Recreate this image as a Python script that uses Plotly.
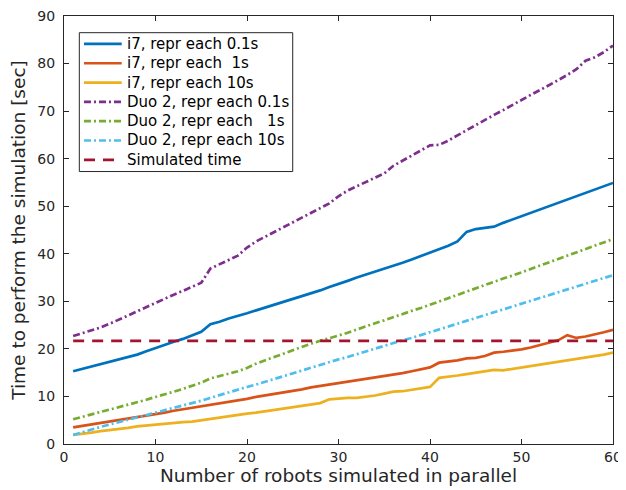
import plotly.graph_objects as go

robots = list(range(1, 61))

i7_01 = [15.3, 15.8, 16.2, 16.7, 17.2, 17.8, 18.3, 18.8, 19.5, 20.2,
         20.9, 21.5, 22.1, 22.8, 23.6, 25.2, 25.7, 26.4, 26.9, 27.5,
         28.1, 28.7, 29.3, 29.9, 30.5, 31.0, 31.6, 32.3, 33.0, 33.6,
         34.3, 35.0, 35.6, 36.2, 36.8, 37.4, 38.1, 38.8, 39.5, 40.3,
         40.9, 41.7, 42.6, 44.6, 45.2, 45.5, 45.7, 46.5, 47.2, 47.9,
         48.6, 49.3, 50.0, 50.7, 51.4, 52.1, 52.8, 53.5, 54.2, 54.9]
i7_1 = [3.5, 3.8, 4.1, 4.4, 4.7, 5.0, 5.3, 5.6, 5.9, 6.3,
        6.6, 7.0, 7.3, 7.6, 7.9, 8.3, 8.6, 8.9, 9.2, 9.5,
        9.9, 10.2, 10.5, 10.8, 11.1, 11.5, 11.9, 12.2, 12.4, 12.8,
        13.1, 13.4, 13.6, 14.0, 14.3, 14.6, 14.9, 15.3, 15.7, 16.1,
        17.1, 17.3, 17.6, 18.0, 18.1, 18.5, 19.2, 19.4, 19.6, 19.9,
        20.3, 20.8, 21.3, 21.8, 22.9, 22.3, 22.6, 23.0, 23.5, 24.0]
i7_10 = [1.9, 2.1, 2.4, 2.7, 2.9, 3.2, 3.4, 3.7, 3.9, 4.1,
         4.3, 4.5, 4.6, 4.7, 5.0, 5.2, 5.5, 5.8, 6.1, 6.4,
         6.6, 6.9, 7.2, 7.5, 7.7, 8.0, 8.3, 8.6, 9.4, 9.6,
         9.7, 9.7, 9.9, 10.2, 10.6, 11.0, 11.1, 11.4, 11.7, 12.0,
         13.9, 14.1, 14.4, 14.7, 15.0, 15.4, 15.6, 15.5, 15.8, 16.0,
         16.3, 16.7, 16.9, 17.2, 17.5, 17.8, 18.1, 18.5, 18.8, 19.2]
duo_01 = [22.7, 23.3, 23.9, 24.5, 25.3, 26.1, 27.0, 27.9, 28.8, 29.6,
          30.5, 31.4, 32.2, 33.0, 33.9, 36.9, 37.8, 38.7, 39.6, 41.3,
          42.6, 43.6, 44.6, 45.6, 46.6, 47.6, 48.6, 49.6, 50.6, 52.1,
          53.3, 54.2, 55.1, 56.0, 56.9, 58.5, 59.6, 60.6, 61.7, 62.8,
          62.9, 63.8, 64.9, 66.0, 67.1, 68.2, 69.2, 70.2, 71.3, 72.4,
          73.4, 74.4, 75.4, 76.5, 77.6, 78.8, 80.6, 81.3, 82.4, 83.8]
duo_1 = [5.2, 5.7, 6.2, 6.7, 7.2, 7.7, 8.2, 8.7, 9.3, 9.9,
         10.4, 11.0, 11.6, 12.3, 12.9, 13.8, 14.3, 14.8, 15.3, 16.0,
         16.9, 17.6, 18.3, 19.0, 19.8, 20.5, 21.1, 21.7, 22.2, 22.8,
         23.4, 24.1, 24.7, 25.4, 26.0, 26.7, 27.3, 28.0, 28.6, 29.3,
         30.0, 30.6, 31.3, 32.0, 32.7, 33.4, 34.1, 34.8, 35.4, 36.1,
         36.8, 37.5, 38.2, 38.9, 39.6, 40.3, 41.0, 41.7, 42.4, 43.1]
duo_10 = [1.9, 2.5, 3.1, 3.6, 4.1, 4.6, 5.0, 5.5, 6.0, 6.5,
          7.0, 7.6, 8.1, 8.6, 9.1, 9.7, 10.3, 10.8, 11.4, 12.0,
          12.5, 13.1, 13.7, 14.3, 14.9, 15.5, 16.1, 16.6, 17.2, 17.8,
          18.3, 18.9, 19.5, 20.1, 20.6, 21.2, 21.8, 22.3, 22.9, 23.5,
          24.1, 24.7, 25.3, 25.9, 26.5, 27.1, 27.6, 28.2, 28.8, 29.4,
          30.0, 30.6, 31.2, 31.8, 32.4, 33.0, 33.6, 34.2, 34.8, 35.5]
sim_x = [1, 60]
sim_y = [21.7, 21.7]

names = ["i7, repr each 0.1s",
         "i7, repr each\u00a0\u00a01s",
         "i7, repr each 10s",
         "Duo 2, repr each 0.1s",
         "Duo 2, repr each\u00a0\u00a0\u00a01s",
         "Duo 2, repr each 10s",
         "Simulated time"]

x_ticks = [0, 10, 20, 30, 40, 50, 60]
y_ticks = [0, 10, 20, 30, 40, 50, 60, 70, 80, 90]
x_title = "Number of robots simulated in parallel"
y_title = "Time to perform the simulation [sec]"

colors = ["#0072BD", "#D95319", "#EDB120", "#7E2F8E", "#77AC30", "#4DBEEE", "#A2142F"]
dashdot = "7px,3px,2px,3px"
simdash = "11px,8px"

series = [i7_01, i7_1, i7_10, duo_01, duo_1, duo_10]
dashes = ["solid", "solid", "solid", dashdot, dashdot, dashdot, simdash]
LW = 2.7

fig = go.Figure()
for ys, nm, c, d in zip(series, names[:6], colors[:6], dashes[:6]):
    fig.add_trace(go.Scatter(x=robots, y=ys, mode="lines", name=nm,
                             showlegend=False,
                             line=dict(color=c, width=LW, dash=d)))
fig.add_trace(go.Scatter(x=sim_x, y=sim_y, mode="lines", name=names[6],
                         showlegend=False,
                         line=dict(color=colors[6], width=LW, dash=simdash)))

axcol = "#262626"
font = "DejaVu Sans"

# legend drawn as a boxed key (paper coordinates)
leg_x0, leg_x1, leg_y0, leg_y1 = 0.0279, 0.4166, 0.6366, 0.961
samp_x0, samp_x1, text_x = 0.0364, 0.1051, 0.1111
entry_y0, entry_step = 0.9347, 0.04511
shapes = [dict(type="rect", xref="paper", yref="paper",
               x0=leg_x0, x1=leg_x1, y0=leg_y0, y1=leg_y1,
               line=dict(color=axcol, width=1), fillcolor="white", layer="above")]
annotations = []
for i, (nm, c, d) in enumerate(zip(names, colors, dashes)):
    yy = entry_y0 - i * entry_step
    shapes.append(dict(type="line", xref="paper", yref="paper",
                       x0=samp_x0, x1=samp_x1, y0=yy, y1=yy, layer="above",
                       line=dict(color=c, width=LW, dash=d)))
    annotations.append(dict(xref="paper", yref="paper", x=text_x, y=yy,
                            xanchor="left", yanchor="middle", showarrow=False,
                            text=nm, font=dict(family=font, size=15, color="#000000")))

# x axis title placed just below the tick labels
annotations.append(dict(xref="paper", yref="paper", x=0.5, y=0, xanchor="center",
                        yanchor="top", yshift=-19, showarrow=False, text=x_title,
                        font=dict(family=font, size=18.5, color=axcol)))

fig.update_layout(
    width=618, height=482,
    margin=dict(l=56, r=13, t=8, b=46),
    paper_bgcolor="white", plot_bgcolor="white",
    font=dict(family=font, size=13, color=axcol),
    showlegend=False,
    shapes=shapes, annotations=annotations,
    xaxis=dict(range=[0, 60], tickvals=x_ticks, ticks="inside", ticklen=5,
               showline=True, mirror="ticks", linecolor=axcol, linewidth=1,
               tickcolor=axcol, showgrid=False, zeroline=False,
               automargin=False, ticklabeloverflow="allow",
               tickfont=dict(family=font, size=14, color=axcol)),
    yaxis=dict(range=[0, 90], tickvals=y_ticks, ticks="inside", ticklen=5,
               showline=True, mirror="ticks", linecolor=axcol, linewidth=1,
               tickcolor=axcol, showgrid=False, zeroline=False,
               automargin=False, ticklabelstandoff=5, ticklabeloverflow="allow",
               tickfont=dict(family=font, size=14, color=axcol),
               title=dict(text=y_title,
                          font=dict(family=font, size=18.5, color=axcol),
                          standoff=12)),
)

fig.write_html("out.html")
